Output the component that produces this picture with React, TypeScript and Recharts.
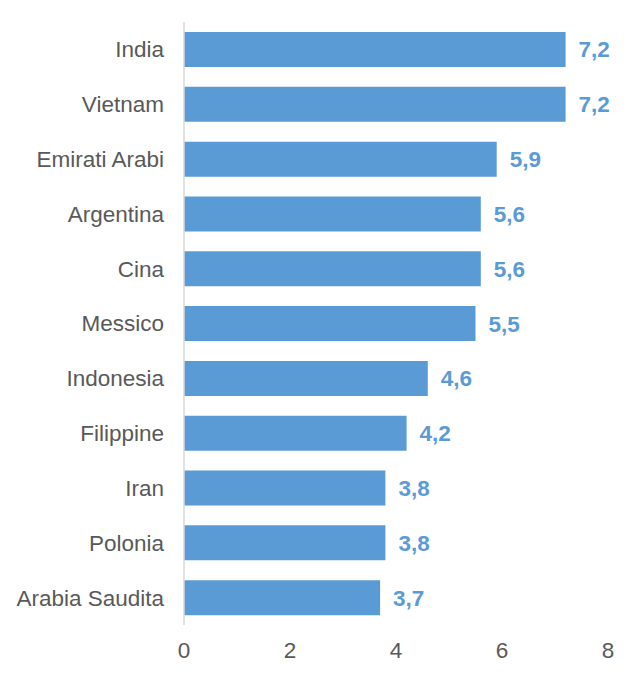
import React from "react";
import { BarChart, Bar, XAxis, YAxis, LabelList } from "recharts";

const countries = [
  "India",
  "Vietnam",
  "Emirati Arabi",
  "Argentina",
  "Cina",
  "Messico",
  "Indonesia",
  "Filippine",
  "Iran",
  "Polonia",
  "Arabia Saudita",
];
const values = [7.2, 7.2, 5.9, 5.6, 5.6, 5.5, 4.6, 4.2, 3.8, 3.8, 3.7];
const xTicks = [0, 2, 4, 6, 8];

const data = countries.map((name, i) => ({ name, value: values[i] }));

const blue = "#5B9BD5";
const font = "'Liberation Sans', Arial, sans-serif";

export default function App() {
  return (
    <div style={{ position: "absolute", left: 0, top: 0, width: 638, height: 679, background: "#fff" }}>
      <BarChart
        layout="vertical"
        width={638}
        height={679}
        data={data}
        margin={{ top: 22, right: 30, bottom: 14, left: 0 }}
        barSize={35}
      >
        <XAxis
          type="number"
          domain={[0, 8]}
          ticks={xTicks}
          axisLine={false}
          tickLine={false}
          tickSize={0}
          tickMargin={17}
          height={40}
          tick={{ fill: "#595959", fontSize: 22.5, fontFamily: font }}
        />
        <YAxis
          type="category"
          dataKey="name"
          width={184}
          axisLine={{ stroke: "#D9D9D9", strokeWidth: 1.5 }}
          tickLine={false}
          tickSize={0}
          tickMargin={20}
          tick={{ fill: "#595959", fontSize: 22.5, fontFamily: font }}
        />
        <Bar dataKey="value" fill={blue} isAnimationActive={false}>
          <LabelList
            dataKey="value"
            position="right"
            offset={13}
            formatter={(v: any) => String(v).replace(".", ",")}
            style={{ fill: blue, fontSize: 22.5, fontWeight: "bold", fontFamily: font }}
          />
        </Bar>
      </BarChart>
    </div>
  );
}
